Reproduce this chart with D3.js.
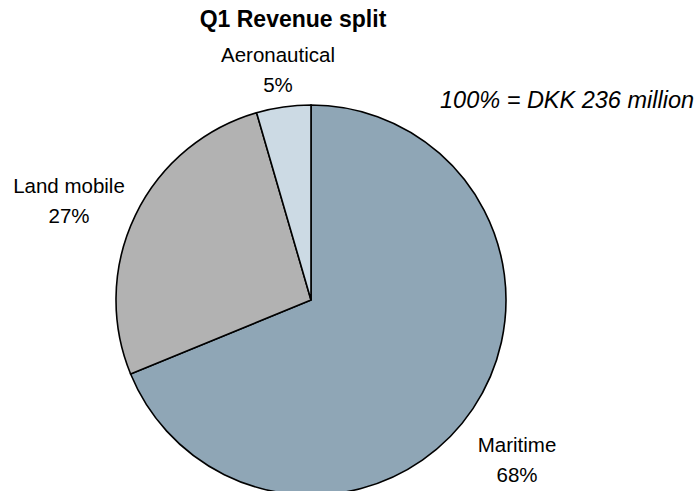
<!DOCTYPE html>
<html>
<head>
<meta charset="utf-8">
<script src="https://cdn.jsdelivr.net/npm/d3@7"></script>
<style>
  body { margin: 0; background: #fff; }
  svg { display: block; font-family: Arial, "Liberation Sans", sans-serif; }
</style>
</head>
<body>
<svg id="chart"></svg>
<script>
// slice data, clockwise from 12 o'clock
var segments = ["Maritime", "Land mobile", "Aeronautical"]
var shares = [68.8, 26.7, 4.5]
var shareLabels = ["68%", "27%", "5%"]
var colors = ["#8fa6b6", "#b2b2b2", "#ccdae4"]

var title = "Q1 Revenue split"
var note = "100% = DKK 236 million"

// label anchor (baseline of first line) for each slice
var labelPos = [[517, 452], [69, 193], [278, 62]]

var width = 697, height = 491
var cx = 311, cy = 300, radius = 195

var svg = d3.select("#chart")
    .attr("width", width)
    .attr("height", height)

var data = segments.map(function (s, i) {
    return {name: s, value: shares[i], label: shareLabels[i], color: colors[i], pos: labelPos[i]}
})

var pie = d3.pie()
    .sort(null)
    .value(function (d) { return d.value })

var arc = d3.arc()
    .innerRadius(0)
    .outerRadius(radius)

var g = svg.append("g")
    .attr("transform", "translate(" + cx + "," + cy + ")")

g.selectAll("path")
    .data(pie(data))
    .enter()
    .append("path")
    .attr("d", arc)
    .style("fill", function (d) { return d.data.color })
    .style("stroke", "#000")
    .style("stroke-width", 1.6)
    .style("stroke-linejoin", "miter")

// slice labels, two lines each
var labels = svg.append("g").attr("class", "labels")
labels.selectAll("text")
    .data(data)
    .enter()
    .append("text")
    .attr("x", function (d) { return d.pos[0] })
    .attr("y", function (d) { return d.pos[1] })
    .attr("text-anchor", "middle")
    .style("font-size", "20.5px")
    .style("fill", "#000")
    .each(function (d) {
        var t = d3.select(this)
        t.append("tspan").attr("x", d.pos[0]).text(d.name)
        t.append("tspan").attr("x", d.pos[0]).attr("dy", 30).text(d.label)
    })

svg.append("text")
    .attr("x", 293)
    .attr("y", 27)
    .attr("text-anchor", "middle")
    .style("font-size", "23px")
    .style("font-weight", "bold")
    .text(title)

svg.append("text")
    .attr("x", 440)
    .attr("y", 108)
    .style("font-size", "23.5px")
    .style("font-style", "italic")
    .text(note)
</script>
</body>
</html>
